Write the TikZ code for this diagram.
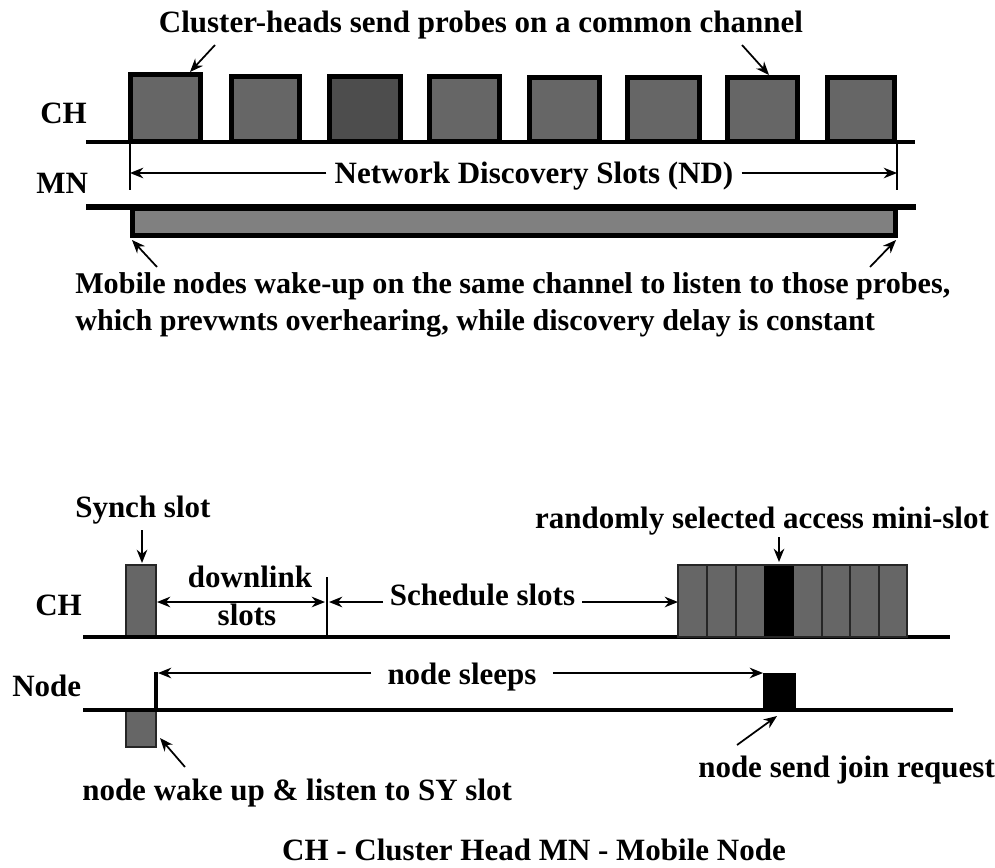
\documentclass[tikz,border=0pt]{standalone}
\usepackage{fontspec}
\setmainfont{Liberation Serif}
\usetikzlibrary{arrows.meta}
\definecolor{slotgray}{HTML}{666666}
\definecolor{darkslot}{HTML}{4D4D4D}
\definecolor{bargray}{HTML}{808080}
\begin{document}
\begin{tikzpicture}[x=0.75pt,y=-0.75pt,
  txt/.style={font=\bfseries\fontsize{23.25}{28}\selectfont, inner sep=0pt, text=black},
  smalltxt/.style={font=\bfseries\fontsize{22.6}{28}\selectfont, inner sep=0pt, text=black},
  axis/.style={line width=3.6pt},
  probe/.style={draw=black, line width=3.75pt},
  dimline/.style={line width=1.5pt},
  arr/.style={-{Stealth[length=10pt,width=8pt]}, line width=1.3pt},
  slot/.style={draw=black!85, line width=0.9pt, fill=slotgray},
]
\useasboundingbox (0,0) rectangle (995,867);

% ---------------- top diagram ----------------
\node[txt, anchor=base] (title) at (481,33) {Cluster-heads send probes on a common channel};
\node[txt, anchor=base west] (chtop) at (40,123) {CH};
\node[txt, anchor=base west] (mntop) at (36,193) {MN};

\foreach \l/\r/\t/\c in {128/203/72/slotgray, 229/302/74/slotgray, 327/403/74/darkslot,
  427/502/74/slotgray, 527/602/75/slotgray, 625/702/75/slotgray, 725/800/75/slotgray,
  825/897/75/slotgray}
  \draw[probe, fill=\c] (\l+2.5,141) rectangle (\r-2.5,\t+2.5);

\draw[axis] (86,142) -- (915,142);

\coordinate (probeA) at (190,72);
\coordinate (probeB) at (769,75);
\coordinate (titleA) at (215,45);
\coordinate (titleB) at (742,45);
\draw[arr] (titleA) -- (probeA);
\draw[arr] (titleB) -- (probeB);

\draw[dimline] (130,142) -- (130,190);
\draw[dimline] (897,142) -- (897,190);
\coordinate (ndL) at (130,173);
\coordinate (ndR) at (897,173);
\node[txt, anchor=base, inner xsep=6pt] (nd) at (534,183) {Network Discovery Slots (ND)};
\draw[arr] (nd.west |- ndL) -- (ndL);
\draw[arr] (nd.east |- ndR) -- (ndR);

\draw[line width=3.75pt, fill=bargray] (132,208) rectangle (895,235);
\draw[axis, line width=4.5pt] (86,207) -- (916,207);

\node[smalltxt, anchor=base west] (mob1) at (75,293) {Mobile nodes wake-up on the same channel to listen to those probes,};
\node[smalltxt, anchor=base west] (mob2) at (75,330) {which prevwnts overhearing, while discovery delay is constant};
\coordinate (barL) at (132,240);
\coordinate (barR) at (896,240);
\coordinate (mobA) at (157,267);
\coordinate (mobB) at (870,267);
\draw[arr] (mobA) -- (barL);
\draw[arr] (mobB) -- (barR);

% ---------------- bottom diagram ----------------
\node[txt, anchor=base west] (chbot) at (35,615) {CH};
\node[txt, anchor=base west] (nodelbl) at (12,696) {Node};

\node[txt, anchor=base west] (synch) at (75,517) {Synch slot};
\coordinate (synchTop) at (142,563);
\draw[arr] (142,530) -- (synchTop);
\draw[slot] (126,565) rectangle (156,637);

\draw[axis] (83,637) -- (950,637);

\node[txt, anchor=base] (down1) at (250,587) {downlink};
\node[txt, anchor=base] (down2) at (247,625) {slots};
\draw[dimline] (327,577) -- (327,637);
\coordinate (dlL) at (157,602);
\coordinate (dlR) at (325,602);
\draw[{Stealth[length=10pt,width=8pt]}-{Stealth[length=10pt,width=8pt]}, line width=1.3pt] (dlL) -- (dlR);

\node[txt, anchor=base west, inner xsep=5pt] (sched) at (383,605) {Schedule slots};
\coordinate (schedL) at (329,602);
\coordinate (blockL) at (678,602);
\draw[arr] (sched.west |- schedL) -- (schedL);
\draw[arr] (sched.east |- blockL) -- (blockL);

\foreach \l in {678,707,736,793,822,850,879}
  \draw[slot] (\l,565) rectangle (\l+28.6,637);
\draw[draw=black, fill=black] (764,565) rectangle (793,637);
\draw[draw=black!85, line width=0.9pt] (678,565) rectangle (907,637);

\node[txt, anchor=base] (rand) at (762,528) {randomly selected access mini-slot};
\coordinate (miniTop) at (779,562);
\draw[arr] (779,537) -- (miniTop);

\draw[slot] (126,710) rectangle (156,747);
\draw[axis] (83,710) -- (953,710);
\draw[line width=2.6pt] (156,710) -- (156,672);

\node[txt, anchor=base, inner xsep=12pt] (sleeps) at (462,684) {node sleeps};
\coordinate (wakeL) at (158,673);
\coordinate (joinL) at (763,673);
\draw[arr] (sleeps.west |- wakeL) -- (wakeL);
\draw[arr] (sleeps.east |- joinL) -- (joinL);
\draw[fill=black] (763,673) rectangle (795,710);

\node[txt, anchor=base west] (join) at (698,777) {node send join request};
\coordinate (joinTip) at (777,716);
\draw[arr] (737,745) -- (joinTip);

\node[txt, anchor=base west] (wake) at (82,800) {node wake up \& listen to SY slot};
\coordinate (wakeTip) at (160,738);
\draw[arr] (185,767) -- (wakeTip);

\node[txt, anchor=base] (caption) at (534,860) {CH - Cluster Head MN - Mobile Node};
\end{tikzpicture}
\end{document}
